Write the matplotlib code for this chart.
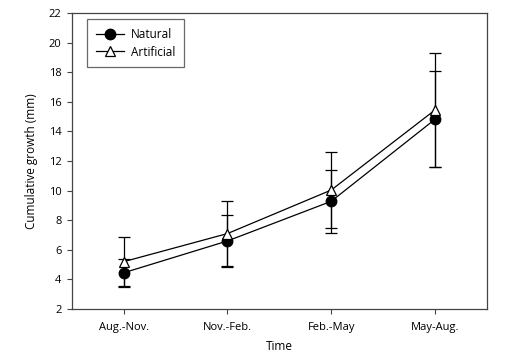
import matplotlib
matplotlib.use("Agg")
import matplotlib.pyplot as plt

plt.rcParams['font.family'] = ['Open Sans', 'DejaVu Sans']

# data
periods = ['Aug.-Nov.', 'Nov.-Feb.', 'Feb.-May', 'May-Aug.']
natural = [4.45, 6.6, 9.28, 14.82]
natural_err = [0.95, 1.75, 2.12, 3.25]
artificial = [5.2, 7.1, 10.04, 15.45]
artificial_err = [1.65, 2.2, 2.58, 3.83]

x = list(range(len(periods)))

fig = plt.figure(figsize=(5.28, 3.54), dpi=100)
ax = fig.add_axes([0.136, 0.127, 0.786, 0.836])

ax.errorbar(x, natural, yerr=natural_err, color='black', lw=0.9,
            marker='o', ms=7.5, mfc='black', mec='black',
            capsize=4, capthick=0.9, elinewidth=0.9, label='Natural', zorder=3)
ax.errorbar(x, artificial, yerr=artificial_err, color='black', lw=0.9,
            marker='^', ms=7.5, mfc='white', mec='black', mew=0.9,
            capsize=4, capthick=0.9, elinewidth=0.9, label='Artificial', zorder=4)

ax.set_xlim(-0.5, 3.5)
ax.set_ylim(2, 22)
ax.set_yticks(range(2, 23, 2))
ax.set_xticks(x)
ax.set_xticklabels(periods)
ax.tick_params(labelsize=8, length=3.5, width=0.8, color='#444444', pad=6)
ax.tick_params(axis='y', pad=4)
for s in ax.spines.values():
    s.set_linewidth(0.9)
    s.set_color('#444444')

ax.set_xlabel('Time', fontsize=8.5, labelpad=5)
ax.set_ylabel('Cumulative growth (mm)', fontsize=8.5, labelpad=8)

handles, labels = ax.get_legend_handles_labels()
handles = [h[0] for h in handles]
leg = ax.legend(handles, labels, loc='upper left', bbox_to_anchor=(0.036, 0.98),
                borderaxespad=0, fontsize=8.5, fancybox=False, edgecolor='#444444',
                handlelength=2.4, handletextpad=0.6, borderpad=0.75,
                labelspacing=0.4)
leg.get_frame().set_linewidth(0.9)

fig.savefig('out.png', dpi=100)
